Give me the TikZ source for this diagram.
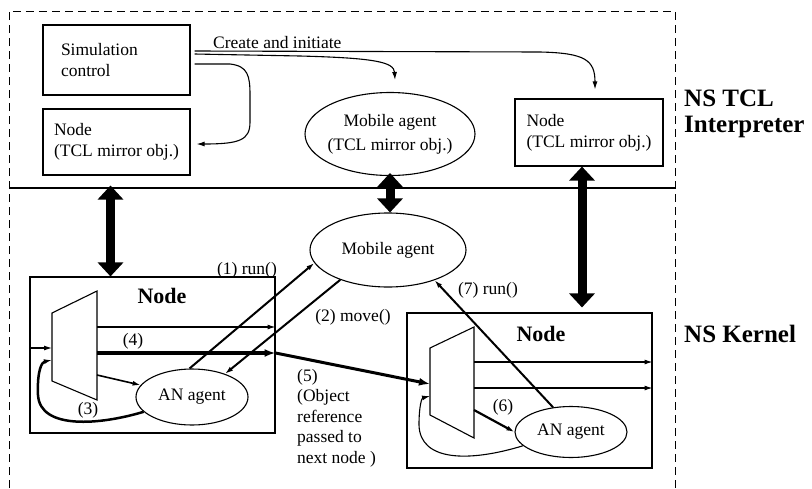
\documentclass[tikz,border=0pt]{standalone}
\usepackage{fontspec}
\setmainfont{Liberation Serif}
\usetikzlibrary{arrows.meta,calc,positioning,shapes.geometric}
\tikzset{
  tclbox/.style={
    draw,
    line width=1.1pt,
    align=left,
    minimum width=147pt,
    minimum height=66pt,
    font=\fontsize{17.5}{21}\selectfont
  },
  knode/.style={
    draw,
    line width=1.1pt,
    minimum width=245pt,
    minimum height=155pt
  },
  agent/.style={
    ellipse,
    draw,
    line width=1.1pt,
    inner sep=0pt,
    align=center,
    font=\fontsize{17.5}{24}\selectfont
  },
  ntitle/.style={
    inner sep=0pt,
    font=\fontsize{22}{24}\selectfont\bfseries
  },
  side/.style={
    align=left,
    inner sep=0pt,
    font=\fontsize{25}{26}\selectfont\bfseries
  },
  lbl/.style={
    align=left,
    inner sep=0pt,
    font=\fontsize{17.5}{20.5}\selectfont
  },
  demux/.style={line width=1.1pt},
  arrow/.style={
    -{Latex[length=8pt,width=5pt]},
    line width=1.1pt
  },
  heavy/.style={
    -{Latex[length=11pt,width=8pt]}
  },
  bigarrow/.style={
    line width=9pt,
    {Triangle[length=14pt,width=25pt]}-{Triangle[length=14pt,width=25pt]}
  },
  frame/.style={
    dash pattern=on 8pt off 5pt,
    line width=1pt
  }
}

\begin{document}
\begin{tikzpicture}[x=1pt,y=-1pt]
\useasboundingbox (0,0) rectangle (812,488);

% interpreter / kernel split
\draw[frame] (9,488) |- (675,11) -- (675,488);
\draw[line width=1.1pt] (9,188) -- (675,188);

% NS TCL interpreter
\node[tclbox, minimum width=0pt, text width=111pt, inner xsep=18pt, minimum height=70pt] (simctl) at (116.5,60) {Simulation\\control};
\node[tclbox] (nodeL) at (116.5,142) {Node\\(TCL mirror obj.)};
\node[agent, minimum width=170pt, minimum height=83pt, inner xsep=-3pt] (mobTop) at (390,134) {Mobile agent\\(TCL mirror obj.)};
\node[tclbox, minimum width=148pt, minimum height=67pt] (nodeR) at (589,132.5) {Node\\(TCL mirror obj.)};
\node[lbl, anchor=base west] (create) at (213,48) {Create and initiate};

\draw[arrow] ([shift={(4pt,9pt)}]simctl.east) -- (540,52) .. controls (585,53) and (595,60) .. ([shift={(6pt,9pt)}]nodeR.north);
\draw[arrow] ([shift={(4pt,6pt)}]simctl.east) -- (300,56) .. controls (375,58) and (394,62) .. ([shift={(5pt,12pt)}]mobTop.north);
\draw[arrow] ([shift={(4pt,-4pt)}]simctl.east) -- (230,64) .. controls (248,66) and (250,76) .. (250,95) -- (250,122) .. controls (250,140) and (240,144) .. ([shift={(6pt,-2pt)}]nodeL.east);

\node[side, anchor=west] (tcl) at (684,114) {NS TCL\\Interpreter};

% NS kernel
\node[knode, minimum height=156pt] (nodeA) at (152.5,355) {};
\node[knode] (nodeB) at (529.5,390.5) {};
\node[ntitle] (tA) at (162,296) {Node};
\node[ntitle] (tB) at (541,334) {Node};
\node[agent, minimum width=156pt, minimum height=74pt] (mobK) at (388,250) {Mobile agent};
\node[agent, minimum width=112pt, minimum height=56pt] (agentA) at (192,397) {AN agent};
\node[agent, minimum width=112pt, minimum height=51pt] (agentB) at (571,432) {AN agent};
\node[side, anchor=west] (kern) at (684,334) {NS Kernel};

\draw[demux] (52,313) -- (97,291) -- (97,400) -- (52,381) -- cycle;
\draw[demux] (430,348) -- (474,327) -- (474,438) -- (430,415) -- cycle;
\coordinate (dAin) at (52,348);
\coordinate (dAo1) at (97,327);
\coordinate (dAo2) at (97,353);
\coordinate (dAo3) at (97,375);
\coordinate (dAfb) at (52,360);
\coordinate (dBin) at (430,384);
\coordinate (dBo1) at (474,362);
\coordinate (dBo2) at (474,388);
\coordinate (dBo3) at (474,410);
\coordinate (dBfb) at (430,396);

\draw[bigarrow] ([xshift=-6pt]nodeL.south) ++(0,10) -- ([xshift=-6pt]nodeL.south |- nodeA.north);
\draw[bigarrow] ([yshift=3pt]mobTop.south) -- (mobTop.south |- mobK.north);
\draw[bigarrow] ([xshift=-7pt]nodeR.south) -- ([xshift=-7pt,yshift=5pt]nodeR.south |- nodeB.north);

\draw[arrow] (nodeA.west |- dAin) -- (dAin);
\draw[arrow] (dAo1) -- (nodeA.east |- dAo1);
\draw[arrow, heavy, line width=4.5pt] (dAo2) -- (nodeA.east |- dAo2);
\draw[arrow, heavy, line width=3pt] (nodeA.east |- dAo2) -- (dBin);
\draw[arrow, line width=1.6pt] (dAo3) -- (agentA);
\draw[arrow, line width=2.5pt] (agentA.197) .. controls (100,425) and (40,430) .. (38,395) .. controls (37,370) and (42,362) .. (dAfb);
\draw[arrow, line width=2pt] (agentA.95) -- (mobK.190);
\draw[arrow, line width=2pt] (mobK.212) -- (agentA.35);

\draw[arrow] (dBo1) -- (nodeB.east |- dBo1);
\draw[arrow] (dBo2) -- (nodeB.east |- dBo2);
\draw[arrow, line width=2.2pt] (dBo3) -- (agentB.west);
\draw[arrow] (agentB.196) .. controls (470,462) and (420,462) .. (419,425) .. controls (419,405) and (422,398) .. (dBfb);
\draw[arrow, line width=2pt] (agentB.126) -- (mobK.327);

\node[lbl] (l1) at (247,270) {(1) run()};
\node[lbl] (l2) at (353,317) {(2) move()};
\node[lbl] (l3) at (88,410) {(3)};
\node[lbl] (l4) at (133,341) {(4)};
\node[lbl, anchor=north west] (l5) at (297,369) {(5)\\(Object\\reference\\passed to\\next node )};
\node[lbl] (l6) at (503,407) {(6)};
\node[lbl] (l7) at (488,290) {(7) run()};
\end{tikzpicture}
\end{document}
